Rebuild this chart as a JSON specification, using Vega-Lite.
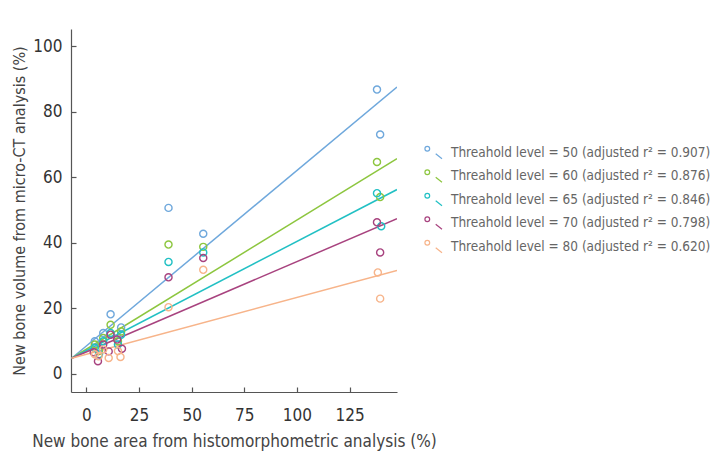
{
  "$schema": "https://vega.github.io/schema/vega-lite/v6.json",
  "width": 326,
  "height": 363,
  "autosize": {"type": "none"},
  "padding": {"left": 71, "top": 29, "right": 313, "bottom": 61},
  "config": {
    "view": {"stroke": null},
    "font": "DejaVu Sans Condensed, Liberation Sans, sans-serif",
    "axis": {"grid": false, "domainColor": "#555", "tickColor": "#555", "domainWidth": 1.2, "tickWidth": 1.2, "labelColor": "#333", "titleColor": "#444", "titleFontWeight": "normal"}
  },
  "datasets": {
    "points": [
      {"series": "Threahold level = 50 (adjusted r² = 0.907)", "x": 4, "y": 10},
      {"series": "Threahold level = 50 (adjusted r² = 0.907)", "x": 6, "y": 8},
      {"series": "Threahold level = 50 (adjusted r² = 0.907)", "x": 8, "y": 12.5},
      {"series": "Threahold level = 50 (adjusted r² = 0.907)", "x": 11.5, "y": 18.2},
      {"series": "Threahold level = 50 (adjusted r² = 0.907)", "x": 15, "y": 11},
      {"series": "Threahold level = 50 (adjusted r² = 0.907)", "x": 16.5, "y": 14.2},
      {"series": "Threahold level = 50 (adjusted r² = 0.907)", "x": 39, "y": 50.7},
      {"series": "Threahold level = 50 (adjusted r² = 0.907)", "x": 55.5, "y": 42.8},
      {"series": "Threahold level = 50 (adjusted r² = 0.907)", "x": 138, "y": 86.8},
      {"series": "Threahold level = 50 (adjusted r² = 0.907)", "x": 139.5, "y": 73.1},
      {"series": "Threahold level = 60 (adjusted r² = 0.876)", "x": 4, "y": 9},
      {"series": "Threahold level = 60 (adjusted r² = 0.876)", "x": 6, "y": 7},
      {"series": "Threahold level = 60 (adjusted r² = 0.876)", "x": 8, "y": 11},
      {"series": "Threahold level = 60 (adjusted r² = 0.876)", "x": 11.5, "y": 15},
      {"series": "Threahold level = 60 (adjusted r² = 0.876)", "x": 15, "y": 10},
      {"series": "Threahold level = 60 (adjusted r² = 0.876)", "x": 16.5, "y": 13},
      {"series": "Threahold level = 60 (adjusted r² = 0.876)", "x": 39, "y": 39.5},
      {"series": "Threahold level = 60 (adjusted r² = 0.876)", "x": 55.5, "y": 38.8},
      {"series": "Threahold level = 60 (adjusted r² = 0.876)", "x": 138, "y": 64.7},
      {"series": "Threahold level = 60 (adjusted r² = 0.876)", "x": 139.5, "y": 54},
      {"series": "Threahold level = 65 (adjusted r² = 0.846)", "x": 4, "y": 8},
      {"series": "Threahold level = 65 (adjusted r² = 0.846)", "x": 6, "y": 6},
      {"series": "Threahold level = 65 (adjusted r² = 0.846)", "x": 8, "y": 10},
      {"series": "Threahold level = 65 (adjusted r² = 0.846)", "x": 11.5, "y": 12.5},
      {"series": "Threahold level = 65 (adjusted r² = 0.846)", "x": 15, "y": 9},
      {"series": "Threahold level = 65 (adjusted r² = 0.846)", "x": 16.5, "y": 12},
      {"series": "Threahold level = 65 (adjusted r² = 0.846)", "x": 39, "y": 34.2},
      {"series": "Threahold level = 65 (adjusted r² = 0.846)", "x": 55.5, "y": 37.1},
      {"series": "Threahold level = 65 (adjusted r² = 0.846)", "x": 138, "y": 55.2},
      {"series": "Threahold level = 65 (adjusted r² = 0.846)", "x": 140, "y": 45.1},
      {"series": "Threahold level = 70 (adjusted r² = 0.798)", "x": 3.5, "y": 6.6},
      {"series": "Threahold level = 70 (adjusted r² = 0.798)", "x": 5.5, "y": 3.9},
      {"series": "Threahold level = 70 (adjusted r² = 0.798)", "x": 8, "y": 9},
      {"series": "Threahold level = 70 (adjusted r² = 0.798)", "x": 11.5, "y": 12},
      {"series": "Threahold level = 70 (adjusted r² = 0.798)", "x": 14.6, "y": 10.5},
      {"series": "Threahold level = 70 (adjusted r² = 0.798)", "x": 16.9, "y": 7.7},
      {"series": "Threahold level = 70 (adjusted r² = 0.798)", "x": 10.6, "y": 6.9},
      {"series": "Threahold level = 70 (adjusted r² = 0.798)", "x": 39, "y": 29.5},
      {"series": "Threahold level = 70 (adjusted r² = 0.798)", "x": 55.5, "y": 35.4},
      {"series": "Threahold level = 70 (adjusted r² = 0.798)", "x": 138, "y": 46.3},
      {"series": "Threahold level = 70 (adjusted r² = 0.798)", "x": 139.5, "y": 37.1},
      {"series": "Threahold level = 80 (adjusted r² = 0.620)", "x": 4, "y": 6},
      {"series": "Threahold level = 80 (adjusted r² = 0.620)", "x": 5.8, "y": 5.4},
      {"series": "Threahold level = 80 (adjusted r² = 0.620)", "x": 8, "y": 7.5},
      {"series": "Threahold level = 80 (adjusted r² = 0.620)", "x": 10.6, "y": 4.9},
      {"series": "Threahold level = 80 (adjusted r² = 0.620)", "x": 15, "y": 7},
      {"series": "Threahold level = 80 (adjusted r² = 0.620)", "x": 16.2, "y": 5.2},
      {"series": "Threahold level = 80 (adjusted r² = 0.620)", "x": 39, "y": 20.4},
      {"series": "Threahold level = 80 (adjusted r² = 0.620)", "x": 55.5, "y": 31.8},
      {"series": "Threahold level = 80 (adjusted r² = 0.620)", "x": 138.4, "y": 31},
      {"series": "Threahold level = 80 (adjusted r² = 0.620)", "x": 139.5, "y": 23}
    ],
    "lines": [
      {"series": "Threahold level = 50 (adjusted r² = 0.907)", "x": -7, "y": 4.8},
      {"series": "Threahold level = 50 (adjusted r² = 0.907)", "x": 147.5, "y": 87.6},
      {"series": "Threahold level = 60 (adjusted r² = 0.876)", "x": -7, "y": 4.8},
      {"series": "Threahold level = 60 (adjusted r² = 0.876)", "x": 147.5, "y": 65.7},
      {"series": "Threahold level = 65 (adjusted r² = 0.846)", "x": -7, "y": 4.8},
      {"series": "Threahold level = 65 (adjusted r² = 0.846)", "x": 147.5, "y": 56.3},
      {"series": "Threahold level = 70 (adjusted r² = 0.798)", "x": -7, "y": 4.8},
      {"series": "Threahold level = 70 (adjusted r² = 0.798)", "x": 147.5, "y": 47.4},
      {"series": "Threahold level = 80 (adjusted r² = 0.620)", "x": -7, "y": 4.8},
      {"series": "Threahold level = 80 (adjusted r² = 0.620)", "x": 147.5, "y": 31.6}
    ]
  },
  "layer": [
    {
      "data": {"name": "lines"},
      "mark": {"type": "line", "strokeWidth": 1.5, "clip": true},
      "encoding": {
        "x": {"field": "x", "type": "quantitative", "scale": {"domain": [-7.3, 147.5], "nice": false, "zero": false},
          "axis": {"title": "New bone area from histomorphometric analysis (%)", "values": [0, 25, 50, 75, 100, 125], "tickSize": -5, "labelPadding": 20, "labelFontSize": 17, "titleFontSize": 17, "titlePadding": 10}},
        "y": {"field": "y", "type": "quantitative", "scale": {"domain": [-5.5, 105.3], "nice": false, "zero": false},
          "axis": {"title": "New bone volume from micro-CT analysis (%)", "values": [0, 20, 40, 60, 80, 100], "tickSize": -5, "labelPadding": 14, "labelFontSize": 17, "titleFontSize": 16, "titlePadding": 5}},
        "color": {"field": "series", "type": "nominal",
          "scale": {"domain": ["Threahold level = 50 (adjusted r² = 0.907)", "Threahold level = 60 (adjusted r² = 0.876)", "Threahold level = 65 (adjusted r² = 0.846)", "Threahold level = 70 (adjusted r² = 0.798)", "Threahold level = 80 (adjusted r² = 0.620)"],
            "range": ["#6fa8dc", "#8dc63f", "#22c0c4", "#a8437f", "#f7b48a"]},
          "legend": {"title": null, "orient": "none", "legendX": 353, "legendY": 114, "symbolType": "M-0.45,-0.45 A0.28,0.28 0 1,1 -1.01,-0.45 A0.28,0.28 0 1,1 -0.45,-0.45 M0.26,0.14 L1,0.73", "symbolSize": 289, "symbolStrokeWidth": 1.2, "symbolFillColor": "transparent", "labelFontSize": 13.5, "labelColor": "#666", "labelOffset": 8, "rowPadding": 4.5, "labelLimit": 400, "padding": 0}}
      }
    },
    {
      "data": {"name": "points"},
      "mark": {"type": "point", "shape": "circle", "filled": false, "size": 50, "strokeWidth": 1.4, "opacity": 1, "clip": true},
      "encoding": {
        "x": {"field": "x", "type": "quantitative"},
        "y": {"field": "y", "type": "quantitative"},
        "color": {"field": "series", "type": "nominal"}
      }
    }
  ]
}
